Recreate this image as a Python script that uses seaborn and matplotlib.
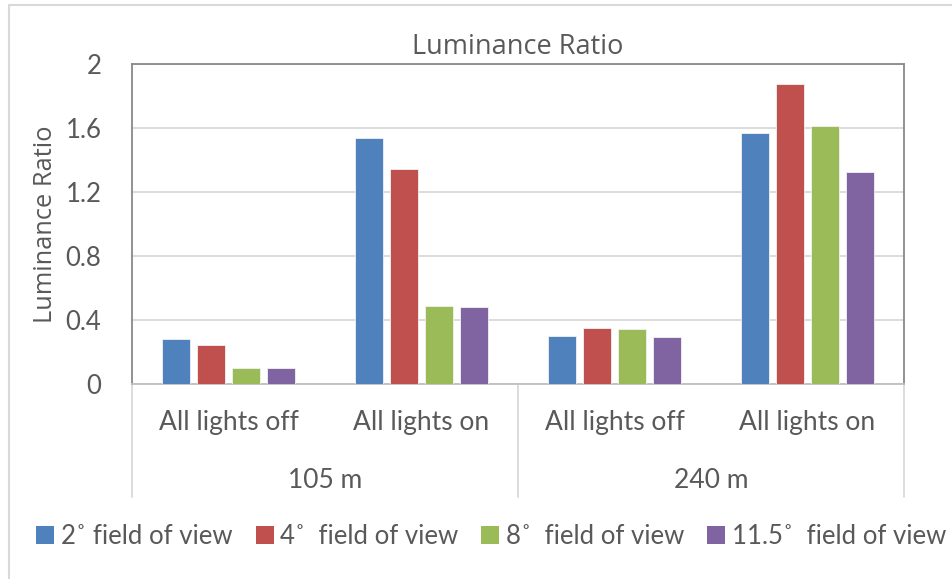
import matplotlib
matplotlib.use("Agg")
import matplotlib.pyplot as plt
from matplotlib.patches import Patch, Rectangle
from matplotlib.lines import Line2D
import seaborn as sns
import pandas as pd

# Data
distances = ["105 m", "240 m"]
conditions = ["All lights off", "All lights on"]
fields = ["2˚ field of view", "4˚  field of view", "8˚  field of view", "11.5˚  field of view"]
ratio_2deg = [0.283, 1.536, 0.298, 1.571]
ratio_4deg = [0.244, 1.344, 0.352, 1.877]
ratio_8deg = [0.100, 0.489, 0.344, 1.610]
ratio_11deg = [0.098, 0.483, 0.292, 1.325]
y_ticks = [0, 0.4, 0.8, 1.2, 1.6, 2.0]
y_tick_labels = ["0", "0.4", "0.8", "1.2", "1.6", "2"]
colors = ["#4F81BD", "#C0504D", "#9BBB59", "#8064A2"]

sns.set_theme(style="white")
plt.rcParams["font.family"] = ["Lato", "DejaVu Sans"]
text_color = "#595959"
heading_font = ["Open Sans", "DejaVu Sans"]

# Long-form table: one row per bar
slots = [f"{d}|{c}" for d in distances for c in conditions]
rows = []
for fov, vals in zip(fields, [ratio_2deg, ratio_4deg, ratio_8deg, ratio_11deg]):
    for slot, v in zip(slots, vals):
        rows.append({"slot": slot, "fov": fov, "ratio": v})
df = pd.DataFrame(rows)

fig = plt.figure(figsize=(9.52, 5.79), dpi=100)
ax = fig.add_axes([132 / 952, 1 - 384 / 579, 772 / 952, 320 / 579])

sns.barplot(data=df, x="slot", y="ratio", hue="fov", order=slots,
            hue_order=fields, palette=colors, saturation=1, width=0.725, gap=0.21,
            edgecolor="#F2F2F2", linewidth=0.6, legend=False, ax=ax, zorder=3)

ax.set_ylim(0, 2.0)
ax.set_xlim(-0.5, len(slots) - 0.5)
ax.set_yticks(y_ticks)
ax.set_yticklabels(y_tick_labels)
ax.yaxis.grid(True, color="#D9D9D9", linewidth=1.3, zorder=0)
ax.set_axisbelow(True)
for side in ["left", "right", "top", "bottom"]:
    ax.spines[side].set_visible(True)
    ax.spines[side].set_color("#898989")
    ax.spines[side].set_linewidth(1.3)
ax.spines["bottom"].set_color("#BFBFBF")

ax.tick_params(axis="y", length=0, pad=22, labelsize=18.5, labelcolor=text_color)
ax.tick_params(axis="x", length=0, pad=19, labelsize=19, labelcolor=text_color)
ax.set_xticks(range(len(slots)))
ax.set_xticklabels([s.split("|")[1] for s in slots])
ax.set_xlabel("")
ax.set_ylabel("Luminance Ratio", fontsize=18.3, color=text_color, labelpad=5,
              family=heading_font)
ax.set_title("Luminance Ratio", fontsize=19.5, color=text_color, pad=7,
             family=heading_font)

# Second-level category labels and separators below the axis
trans = ax.get_xaxis_transform()
for i, d in enumerate(distances):
    ax.text(2 * i + 0.5, -(480 - 384) / 320, d, transform=trans, ha="center",
            va="center", fontsize=19, color=text_color)
line_bottom = -(497 - 384) / 320
for xpos in [-0.5, 1.5, 3.5]:
    ax.add_line(Line2D([xpos, xpos], [0, line_bottom], transform=trans,
                       color="#D9D9D9", linewidth=1.3, clip_on=False))

# Chart area border
fig.patches.append(Rectangle((9 / 952, -0.1), 1.2, 1 - 5 / 579 + 0.1,
                             transform=fig.transFigure, fill=False,
                             edgecolor="#D9D9D9", linewidth=1.5))

handles = [Patch(facecolor=c, edgecolor="none") for c in colors]
fig.legend(handles, fields, loc="center", bbox_to_anchor=(0.516, 1 - 536 / 579),
           ncol=4, frameon=False, fontsize=18.5, labelcolor=text_color,
           handlelength=0.7, handleheight=0.7, handletextpad=0.25,
           columnspacing=0.9, borderpad=0)

fig.savefig("out.png", dpi=100)
